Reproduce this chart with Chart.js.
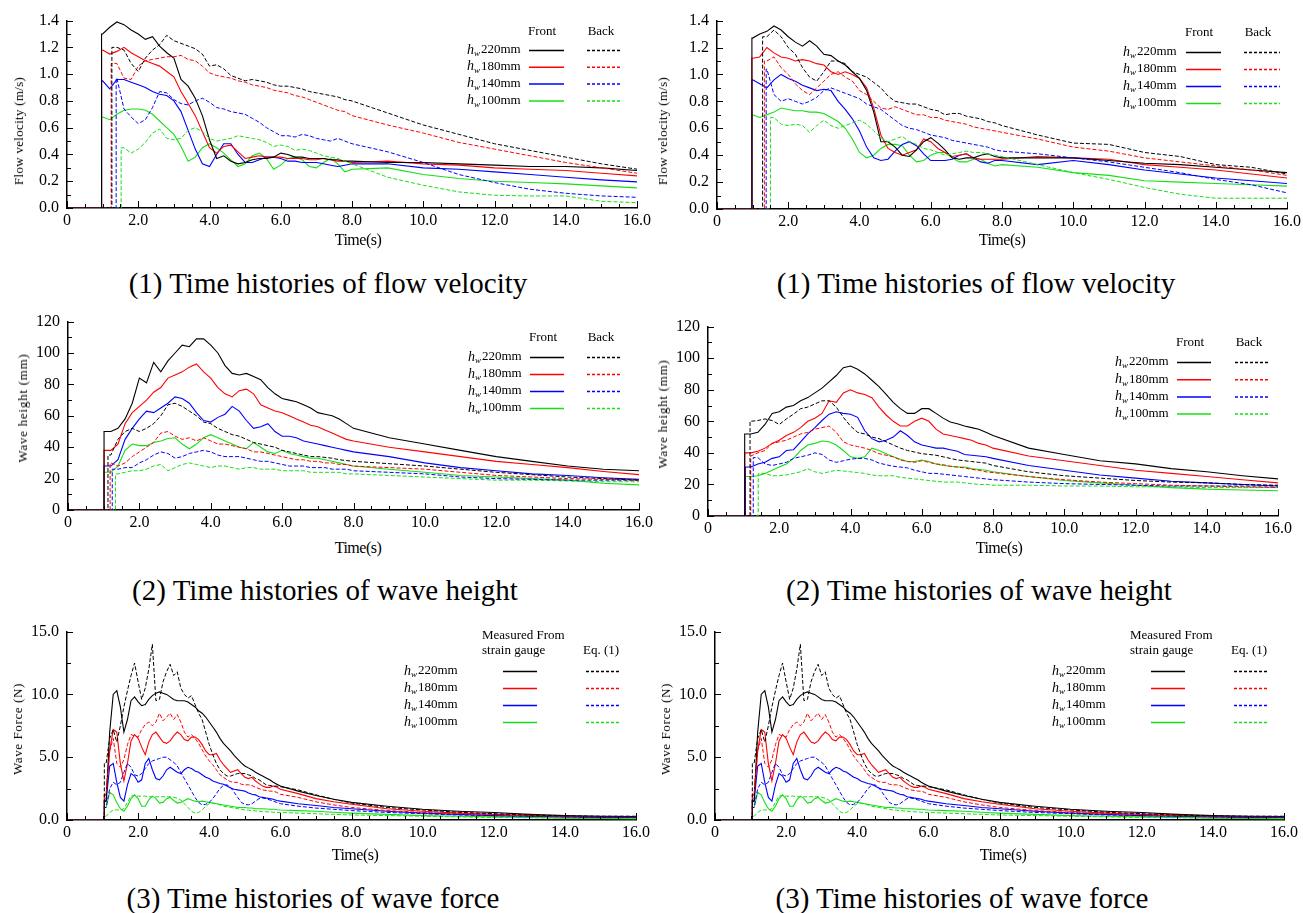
<!DOCTYPE html>
<html>
<head>
<meta charset="utf-8">
<script src="https://cdn.jsdelivr.net/npm/chart.js@4.4.0/dist/chart.umd.min.js"></script>
<style>
    body { margin: 0; background: #fff; width: 1303px; height: 913px; position: relative; overflow: hidden; font-family: "Liberation Serif", serif; color: #000; }
    canvas { position: absolute; }
    .cap { position: absolute; font-size: 29px; white-space: nowrap; transform: translate(-50%, -50%); }
    .xt { position: absolute; font-size: 16px; white-space: nowrap; letter-spacing: -0.5px; transform: translate(-50%, -50%); }
    .yt { position: absolute; font-size: 13px; white-space: nowrap; transform: translate(-50%, -50%) rotate(-90deg); }
</style>
</head>
<body>
<script>
// ---- data ----
const depthLabels = ['220mm', '180mm', '140mm', '100mm'];
const seriesColors = ['#000000', '#ff0000', '#0000ff', '#14e014'];

// time grids (s)
const tVel = [1.0,1.2,1.4,1.6,1.8,2.0,2.2,2.4,2.6,2.8,3.0,3.2,3.4,3.6,3.8,4.0,4.2,4.4,4.6,4.8,5.0,5.2,5.4,5.6,5.8,6.0,6.2,6.4,6.6,6.8,7.0,7.2,7.4,7.6,7.8,8.0,9,10,11,12,13,14,15,16];
const tHgt = [1.2,1.4,1.6,1.8,2.0,2.2,2.4,2.6,2.8,3.0,3.2,3.4,3.6,3.8,4.0,4.2,4.4,4.6,4.8,5.0,5.2,5.4,5.6,5.8,6.0,6.2,6.4,6.6,6.8,7.0,7.2,7.4,7.6,7.8,8.0,9,10,11,12,13,14,15,16];
const tForce = [1.1,1.2,1.3,1.4,1.5,1.6,1.7,1.8,1.9,2.0,2.1,2.2,2.3,2.4,2.5,2.6,2.7,2.8,2.9,3.0,3.1,3.2,3.3,3.4,3.5,3.6,3.7,3.8,3.9,4.0,4.1,4.2,4.3,4.4,4.5,4.6,4.7,4.8,4.9,5.0,5.1,5.2,5.3,5.4,5.5,5.6,5.7,5.8,5.9,6.0,6.5,7,7.5,8,9,10,11,12,13,14,15,16];

// (1) flow velocity, left figure (m/s)
const velL_F220 = [1.30,1.35,1.39,1.37,1.33,1.30,1.26,1.28,1.21,1.16,1.12,0.96,0.91,0.82,0.69,0.51,0.37,0.39,0.35,0.33,0.34,0.36,0.37,0.37,0.38,0.41,0.40,0.38,0.38,0.37,0.37,0.37,0.36,0.36,0.35,0.35,0.34,0.34,0.33,0.32,0.31,0.31,0.30,0.28];
const velL_F180 = [1.18,1.15,1.17,1.20,1.16,1.13,1.10,1.08,1.06,1.02,0.98,0.87,0.78,0.69,0.57,0.45,0.41,0.46,0.47,0.42,0.37,0.38,0.39,0.38,0.38,0.38,0.37,0.37,0.37,0.36,0.36,0.37,0.36,0.35,0.35,0.34,0.35,0.33,0.32,0.30,0.29,0.28,0.26,0.24];
const velL_F140 = [0.95,0.89,0.96,0.96,0.94,0.92,0.90,0.87,0.85,0.84,0.80,0.72,0.58,0.44,0.33,0.31,0.40,0.48,0.48,0.40,0.34,0.34,0.36,0.38,0.38,0.37,0.35,0.35,0.34,0.34,0.34,0.33,0.32,0.31,0.32,0.33,0.33,0.30,0.29,0.27,0.25,0.23,0.21,0.195];
const velL_F100 = [0.68,0.66,0.70,0.73,0.74,0.74,0.73,0.70,0.65,0.60,0.55,0.46,0.35,0.38,0.45,0.48,0.45,0.41,0.36,0.31,0.33,0.39,0.41,0.37,0.29,0.32,0.37,0.38,0.36,0.31,0.30,0.34,0.37,0.33,0.27,0.29,0.30,0.25,0.22,0.20,0.19,0.18,0.165,0.15];
const velL_B220 = [null,null,1.20,1.18,1.08,1.02,1.12,1.18,1.22,1.29,1.25,1.23,1.21,1.19,1.15,1.06,1.07,1.04,0.99,0.97,0.95,0.96,0.95,0.94,0.92,0.91,0.91,0.90,0.89,0.87,0.86,0.85,0.84,0.83,0.81,0.80,0.71,0.62,0.55,0.48,0.43,0.38,0.33,0.29];
const velL_B180 = [null,null,1.08,0.97,0.96,1.06,1.10,1.11,1.12,1.13,1.13,1.14,1.11,1.10,1.06,1.01,0.99,0.98,0.97,0.95,0.94,0.92,0.91,0.90,0.88,0.87,0.86,0.84,0.83,0.81,0.79,0.77,0.75,0.73,0.72,0.69,0.62,0.56,0.49,0.44,0.39,0.34,0.30,0.26];
const velL_B140 = [null,null,0.97,0.74,0.68,0.63,0.66,0.75,0.87,0.86,0.81,0.78,0.77,0.80,0.82,0.79,0.75,0.74,0.72,0.71,0.70,0.67,0.64,0.60,0.57,0.54,0.54,0.53,0.55,0.54,0.52,0.51,0.50,0.52,0.50,0.48,0.42,0.34,0.25,0.19,0.14,0.11,0.09,0.08];
const velL_B100 = [null,null,null,0.45,0.41,0.44,0.49,0.56,0.59,0.52,0.51,0.52,0.58,0.60,0.57,0.52,0.50,0.51,0.52,0.54,0.53,0.52,0.51,0.49,0.46,0.47,0.46,0.43,0.44,0.43,0.41,0.39,0.38,0.37,0.35,0.33,0.23,0.17,0.12,0.095,0.09,0.09,0.05,0.04];
const velL_startFront = [0.97, 0.97, 0.97, 0.97];
const velL_startBack = [1.26, 1.24, 1.38, 1.52];

// (1) flow velocity, right figure (m/s)
const velR_F220 = [1.27,1.30,1.32,1.36,1.33,1.28,1.24,1.21,1.25,1.21,1.15,1.14,1.10,1.07,1.02,0.97,0.88,0.72,0.50,0.50,0.46,0.40,0.39,0.44,0.50,0.53,0.49,0.44,0.38,0.37,0.38,0.38,0.40,0.41,0.39,0.38,0.38,0.38,0.36,0.34,0.33,0.31,0.29,0.27];
const velR_F180 = [1.12,1.13,1.20,1.16,1.13,1.12,1.10,1.11,1.10,1.08,1.07,1.02,1.00,1.02,1.00,0.97,0.90,0.75,0.55,0.45,0.42,0.40,0.42,0.44,0.52,0.50,0.45,0.42,0.39,0.40,0.41,0.38,0.37,0.37,0.37,0.37,0.39,0.38,0.37,0.33,0.31,0.29,0.26,0.23];
const velR_F140 = [0.96,0.93,0.90,0.96,1.00,0.97,0.95,0.92,0.90,0.88,0.89,0.88,0.80,0.74,0.67,0.58,0.46,0.38,0.36,0.37,0.43,0.48,0.50,0.47,0.41,0.36,0.36,0.36,0.37,0.40,0.41,0.38,0.35,0.34,0.36,0.36,0.33,0.36,0.33,0.29,0.26,0.23,0.21,0.19];
const velR_F100 = [0.70,0.68,0.70,0.72,0.75,0.74,0.73,0.73,0.72,0.72,0.71,0.68,0.65,0.60,0.52,0.42,0.38,0.40,0.45,0.48,0.48,0.47,0.40,0.35,0.36,0.40,0.42,0.42,0.38,0.35,0.35,0.37,0.37,0.34,0.32,0.33,0.31,0.27,0.25,0.21,0.20,0.19,0.18,0.17];
const velR_B220 = [null,null,1.28,1.33,1.28,1.20,1.15,1.05,0.98,0.95,1.02,1.10,1.10,1.08,1.02,1.00,0.98,0.94,0.90,0.84,0.80,0.79,0.78,0.78,0.76,0.74,0.73,0.70,0.71,0.71,0.69,0.68,0.67,0.65,0.64,0.62,0.55,0.49,0.48,0.42,0.39,0.33,0.31,0.26];
const velR_B180 = [null,null,1.10,1.13,1.05,1.00,0.93,0.88,0.85,0.90,0.95,1.00,1.02,0.98,0.95,0.88,0.85,0.80,0.75,0.74,0.76,0.74,0.72,0.70,0.70,0.68,0.68,0.66,0.65,0.64,0.63,0.61,0.60,0.59,0.58,0.57,0.52,0.46,0.43,0.38,0.35,0.32,0.29,0.25];
const velR_B140 = [null,null,1.04,0.85,0.80,0.82,0.80,0.78,0.80,0.83,0.88,0.90,0.88,0.86,0.84,0.82,0.78,0.76,0.74,0.70,0.66,0.62,0.60,0.59,0.57,0.55,0.54,0.53,0.51,0.50,0.49,0.48,0.47,0.46,0.44,0.43,0.41,0.38,0.35,0.31,0.27,0.22,0.18,0.12];
const velR_B100 = [null,null,null,0.68,0.63,0.62,0.63,0.62,0.57,0.62,0.66,0.62,0.60,0.62,0.64,0.66,0.63,0.58,0.53,0.50,0.52,0.54,0.50,0.48,0.45,0.44,0.42,0.40,0.41,0.42,0.43,0.42,0.42,0.41,0.40,0.39,0.33,0.27,0.22,0.16,0.11,0.08,0.08,0.08];
const velR_startFront = [0.98, 0.98, 0.98, 0.98];
const velR_startBack = [1.28, 1.33, 1.38, 1.50];

// (2) wave height, left figure (mm)
const hgtL_F220 = [50,52,58,68,84,81,94,88,95,100,105,104,109,109,105,100,92,87,86,87,85,83,78,74,71,70,69,67,65,62,61,60,58,55,52,46,42,38,34,31,28,26,25];
const hgtL_F180 = [38,42,55,62,66,70,75,78,84,86,88,91,93,88,84,78,74,72,76,77,74,67,65,63,62,60,58,56,54,53,51,49,47,45,44,40,37,34,31,29,27,24.5,22.5];
const hgtL_F140 = [28,32,45,52,58,63,62,65,68,72,71,68,62,57,56,59,61,66,63,57,52,53,55,50,47,47,46,44,43,42,41,40,39,38,37,34,30,27,25,23,22,20.5,19.5];
const hgtL_F100 = [24,28,38,42,41,41,43,44,45.5,46,42,39,42,46,48,46,44,42,40,39,43,40,37,36,38,36,35,34,33,33,32,31,30,29,28,26,24,22,21,20,19,17,16];
const hgtL_B220 = [35,45,50,52,50,52,55,60,67,68,66,63,60,56,55,52,50,48,47,45,43,42,41,40,38,37,36,35,34,34,33.5,33,32,31.5,31,29.5,28,26,24,22.5,21,20,19];
const hgtL_B180 = [30,28,30,34,37,40,43,49,50,47,45,46,44,46,44,42,42,41,40,39,37,37,36,35,34,33,32,32,31,31,30,30,29,29,28,27,26,24,22,21,20,19.5,19];
const hgtL_B140 = [null,26,27,27,30,32,35,37,36,33,34,36,37,38,37,35,34,34,34,33,32,31,31,30,29,28,28,28,27,27,27,26,26,26,25,24,23,21,20,19.5,19,19,19];
const hgtL_B100 = [null,23,24,25,25,26,28,29,25,27,29,30,29,28,27,28,28,27,26,27,27,26,26,26,25,25,25,25,24,24,24,24,24,23,23,22,21,20,19,19,18.5,18,18];
const hgtL_startFront = [1.01, 1.01, 1.01, 1.01];
const hgtL_startBack = [1.12, 1.18, 1.24, 1.33];

// (2) wave height, right figure (mm)
const hgtR_F220 = [52,53,58,65,66,69,70,73,75,78,81,85,89,94,95,93,90,86,82,77,72,68,65,65,68,68,65,62,59.5,58.5,57,56,55,53,51,43,39,35,33,30,28,25.5,23.5];
const hgtR_F180 = [40,41,43,46,48,51,53,56,60,62,65,73,72,78,80,78,77,75,69,64,60,57,57,60,62,60,55,52,51,50,49,48,46,45,43,38,35,32,29,27,25,23,21];
const hgtR_F140 = [31,33,34,36.5,37.5,41.5,42,47,52,56,60.5,64.5,66,65,64.5,62.5,54,49,47,48,50,54,51,47,45,44,43,43,42,41,39,38.5,38,37.5,36.5,32,29,26,24,22,21,20,19];
const hgtR_F100 = [25,25.5,27,29,31,33,36.5,41.5,45,46,47.5,47,45,41.5,37.5,36.5,37.5,43,41.5,39.5,37.5,36,34.5,34.5,35.5,34.5,33,32,31.5,31,31,30,29.5,29,28,25,22.5,21,19.5,18,17,16.5,16];
const hgtR_B220 = [60,60.5,61.5,60.5,58,61.5,64.5,68,69,71,73,73,69,62.5,57,53,52,50,49,47,45,43,41.5,40.5,39.5,39,38.5,37.5,36.5,35.5,35,34.5,34,33.5,32,28,25.5,24,22.5,21.5,21,20,19.5];
const hgtR_B180 = [38,40,41.5,46,47,48,50,52,53,55,56,57,53,47,45,44,43,41.5,39.5,38.5,37.5,35.5,34.5,34,35,34,33,32.5,31.5,31,30.5,29.5,29,28,27.5,25,23,21.5,20.5,19.5,19,18.5,18];
const hgtR_B140 = [null,37,33,32,33,34,36.5,37.5,38.5,40,39,35.5,34,35,36,36.5,36.5,35.5,33.5,32.5,31.5,31,30.5,29,28,27,27,26.5,26,25.5,25,24.5,24,23.5,23,21.5,20.5,20,19.5,19,19,19,19];
const hgtR_B100 = [null,null,27,25.5,25.5,26,27,28,30,28,27,28,29,28.5,28,27.5,27,26,25.5,25.5,25.5,24.5,24,23.5,23,22.5,22,21.5,21.5,21.5,21,20.5,20,20,19.5,19.5,19,19,18.5,18.5,18,18,18];
const hgtR_startFront = [1.03, 1.03, 1.05, 1.05];
const hgtR_startBack = [1.18, 1.2, 1.27, 1.41];

// (3) wave force (N): measured from strain gauge and Eq. (1)
const forceM220 = [1.5,7.0,10.0,10.3,9.0,7.0,8.0,9.5,9.8,9.4,9.1,9.2,9.6,9.9,10.1,10.2,10.1,10.0,9.8,9.6,9.5,9.5,9.5,9.4,9.2,9.0,8.7,8.5,8.2,7.8,7.4,7.0,6.5,6.1,5.8,5.5,5.15,4.85,4.55,4.3,4.15,4.0,3.8,3.65,3.5,3.35,3.2,3.0,2.85,2.7,2.3,1.95,1.65,1.4,1.1,0.86,0.7,0.6,0.45,0.35,0.3,0.28];
const forceM180 = [2.0,5.5,7.2,7.0,4.5,3.1,4.5,6.3,6.8,6.5,5.8,5.2,6.2,6.8,7.0,6.6,6.2,6.1,6.3,6.7,7.0,6.8,6.4,6.3,6.6,6.6,6.4,6.0,5.5,5.2,5.2,5.3,4.8,4.4,4.1,3.8,3.9,4.0,3.7,3.4,3.3,3.4,3.1,2.9,2.7,2.6,2.6,2.7,2.6,2.45,2.1,1.7,1.45,1.25,0.9,0.7,0.55,0.45,0.35,0.3,0.25,0.25];
const forceM140 = [1.5,4.3,4.5,3.0,1.8,1.5,2.8,3.7,3.5,3.0,3.2,4.5,4.9,4.0,3.3,3.2,3.5,4.0,4.2,4.0,3.8,3.7,4.0,4.2,4.1,3.9,3.8,3.6,3.4,3.3,3.1,3.0,2.9,2.85,2.7,2.55,2.45,2.4,2.35,2.3,2.15,2.05,2.0,1.85,1.8,1.75,1.7,1.65,1.55,1.5,1.3,1.15,1.0,0.9,0.7,0.55,0.45,0.35,0.3,0.25,0.2,0.2];
const forceM100 = [1.0,2.2,2.0,1.4,0.9,0.7,1.1,1.7,2.0,1.7,1.1,1.1,1.6,1.9,1.7,1.35,1.4,1.7,1.8,1.55,1.35,1.4,1.55,1.7,1.6,1.5,1.45,1.5,1.45,1.4,1.35,1.3,1.25,1.2,1.15,1.1,1.05,1.0,1.0,1.0,0.95,0.95,0.9,0.9,0.9,0.88,0.85,0.85,0.82,0.8,0.75,0.7,0.62,0.55,0.45,0.35,0.3,0.25,0.2,0.15,0.12,0.1];
const forceE220 = [4.5,6.5,7.2,6.2,7.5,9.0,10.3,11.5,12.5,11.0,9.6,10.5,12.0,14.0,9.5,9.6,11.0,11.8,12.4,11.5,11.8,10.5,10.0,9.7,9.9,9.2,8.5,8.0,7.0,6.0,5.2,4.5,4.0,3.7,3.5,3.5,3.6,3.7,3.7,3.7,3.6,3.5,3.3,3.2,3.0,2.8,2.75,2.7,2.7,2.65,2.4,2.0,1.65,1.35,1.0,0.8,0.62,0.5,0.4,0.33,0.3,0.3];
const forceE180 = [2.0,5.5,6.5,4.5,4.2,4.8,6.0,6.8,6.7,6.6,7.2,7.6,7.8,7.5,7.8,8.5,7.9,8.2,8.5,8.0,8.4,7.8,7.0,6.6,6.8,6.5,6.1,5.6,5.1,4.7,4.4,4.0,3.6,3.4,3.2,3.05,3.0,3.0,2.85,2.8,2.8,2.75,2.6,2.5,2.4,2.35,2.3,2.3,2.2,2.05,1.8,1.45,1.2,1.0,0.75,0.6,0.5,0.42,0.35,0.3,0.28,0.27];
const forceE140 = [1.0,2.5,3.0,2.8,3.0,3.8,4.5,4.2,3.6,3.5,3.7,4.1,4.5,4.7,4.8,4.9,5.0,5.0,4.8,4.6,4.3,3.8,3.3,2.8,2.3,1.8,1.4,1.2,1.25,1.4,1.7,2.1,2.5,2.75,2.8,2.6,2.2,1.8,1.4,1.25,1.2,1.3,1.5,1.7,1.75,1.7,1.6,1.5,1.4,1.3,1.1,0.95,0.85,0.75,0.6,0.5,0.4,0.35,0.3,0.25,0.2,0.2];
const forceE100 = [0.3,0.6,0.8,0.8,0.8,0.9,1.4,1.9,1.95,1.9,1.9,1.9,1.85,1.85,1.85,1.85,1.85,1.85,1.85,1.8,1.75,1.6,1.3,1.0,0.7,0.55,0.6,0.8,1.1,1.3,1.35,1.3,1.2,1.1,1.05,1.0,0.95,0.9,0.85,0.8,0.78,0.75,0.72,0.7,0.68,0.66,0.64,0.62,0.6,0.6,0.55,0.5,0.45,0.4,0.35,0.3,0.25,0.2,0.18,0.15,0.12,0.1];
const force_start = [1.05, 1.05, 1.05, 1.05];

// ---- drawing ----
function track(t, v, t0) {
    const pts = [{ x: 0, y: 0 }, { x: t0, y: 0 }];
    let started = false;
    t.forEach(function (ti, i) {
        if (v[i] === null || ti < t0) return;
        if (!started) {
            pts.push({ x: t0, y: v[i] });
            started = true;
        }
        pts.push({ x: ti, y: v[i] });
    });
    return pts;
}

function makeDatasets(t, solid, dashed, t0s, t0d) {
    const sets = [];
    for (let i = 0; i < 4; i++) {
        sets.push({
            data: track(t, dashed[i], t0d[i]),
            borderColor: seriesColors[i],
            borderWidth: 1,
            borderDash: [4, 2],
            pointRadius: 0
        });
    }
    for (let i = 0; i < 4; i++) {
        sets.push({
            data: track(t, solid[i], t0s[i]),
            borderColor: seriesColors[i],
            borderWidth: 1.1,
            pointRadius: 0
        });
    }
    return sets;
}

// inward tick marks on both axes
const innerTicks = {
    id: 'innerTicks',
    afterDraw(chart, args, o) {
        const ctx = chart.ctx;
        const a = chart.chartArea;
        const x = chart.scales.x, y = chart.scales.y;
        ctx.save();
        ctx.strokeStyle = '#000';
        ctx.lineWidth = 1;
        ctx.beginPath();
        for (let k = 0; k <= 32; k++) {
            const px = Math.round(x.getPixelForValue(k * 0.5)) + 0.5;
            ctx.moveTo(px, a.bottom);
            ctx.lineTo(px, a.bottom - (k % 4 === 0 ? 7 : 4));
        }
        const n = Math.round(o.ymax / o.yminor);
        for (let k = 0; k <= n; k++) {
            const py = Math.round(y.getPixelForValue(k * o.yminor)) + 0.5;
            ctx.moveTo(a.left, py);
            ctx.lineTo(a.left + (k % 2 === 0 ? 6 : 4), py);
        }
        ctx.stroke();
        ctx.restore();
    }
};

// two-column legend (solid / dashed) drawn on the canvas
const pairLegend = {
    id: 'pairLegend',
    afterDraw(chart, args, o) {
        const ctx = chart.ctx;
        ctx.save();
        ctx.translate(-o.ox, -o.oy);
        ctx.fillStyle = '#000';
        ctx.textBaseline = 'middle';
        ctx.font = '13px "Liberation Serif"';
        o.heads.forEach(function (h) {
            ctx.textAlign = h.align;
            ctx.fillText(h.text, h.x, h.y);
        });
        ctx.textAlign = 'left';
        depthLabels.forEach(function (lab, i) {
            const y = o.rowY + i * o.rowGap;
            let x = o.labelX;
            ctx.fillStyle = '#000';
            ctx.font = 'italic 14px "Liberation Serif"';
            ctx.fillText('h', x, y);
            x += ctx.measureText('h').width;
            ctx.font = 'italic 9px "Liberation Serif"';
            ctx.fillText('w', x, y + 4);
            x += ctx.measureText('w').width + 1;
            ctx.font = '13px "Liberation Serif"';
            ctx.fillText(lab, x, y);
            ctx.strokeStyle = seriesColors[i];
            ctx.lineWidth = 1.5;
            ctx.setLineDash([]);
            ctx.beginPath(); ctx.moveTo(o.sx[0], y + 0.5); ctx.lineTo(o.sx[1], y + 0.5); ctx.stroke();
            ctx.setLineDash([3, 2]);
            ctx.beginPath(); ctx.moveTo(o.dx[0], y + 0.5); ctx.lineTo(o.dx[1], y + 0.5); ctx.stroke();
        });
        ctx.restore();
    }
};

function addText(cls, text, x, y) {
    const d = document.createElement('div');
    d.className = cls;
    d.textContent = text;
    d.style.left = x + 'px';
    d.style.top = y + 'px';
    document.body.appendChild(d);
    return d;
}

function makePanel(p) {
    const ox = p.L - 62, oy = p.T - 14;
    const w = p.R - p.L + 62 + 26, h = p.B - p.T + 14 + 28;
    const cv = document.createElement('canvas');
    cv.width = w; cv.height = h;
    cv.style.left = ox + 'px'; cv.style.top = oy + 'px';
    cv.style.width = w + 'px'; cv.style.height = h + 'px';
    document.body.appendChild(cv);

    const tickFont = { family: 'Liberation Serif', size: 16 };
    const legend = Object.assign({ ox: ox, oy: oy }, p.legend);

    const config = {
        type: 'line',
        data: { datasets: makeDatasets(p.t, p.solid, p.dashed, p.t0s, p.t0d) },
        options: {
            responsive: false,
            animation: false,
            events: [],
            layout: { padding: { left: 0, top: 14, right: 26, bottom: 0 } },
            plugins: {
                legend: { display: false },
                tooltip: { enabled: false },
                innerTicks: { ymax: p.ymax, yminor: p.yminor },
                pairLegend: legend
            },
            scales: {
                x: {
                    type: 'linear', min: 0, max: 16,
                    afterFit: function (s) { s.height = 28; },
                    grid: { display: true, drawOnChartArea: false, drawTicks: false },
                    border: { color: '#000', width: 1.5 },
                    ticks: {
                        stepSize: 2, autoSkip: false, maxRotation: 0, padding: 3,
                        color: '#000', font: tickFont,
                        callback: function (v) { return v === 0 ? '0' : v.toFixed(1); }
                    }
                },
                y: {
                    min: 0, max: p.ymax,
                    afterFit: function (s) { s.width = 62; },
                    grid: { display: true, drawOnChartArea: false, drawTicks: false },
                    border: { color: '#000', width: 1.5 },
                    ticks: {
                        stepSize: p.ystep, autoSkip: false, padding: 8,
                        color: '#000', font: tickFont,
                        callback: function (v) { return v.toFixed(p.dec); }
                    }
                }
            }
        },
        plugins: [innerTicks, pairLegend]
    };
    new Chart(cv, config);

    addText('xt', 'Time(s)', p.xTitle[0], p.xTitle[1]);
    const yt = addText('yt', p.yTitle, p.yPos[0], p.yPos[1]);
    yt.style.letterSpacing = p.ySpace + 'px';
    addText('cap', p.caption, p.capPos[0], p.capPos[1]);
}

const frontBack = function (cx1, cx2, y) {
    return [{ text: 'Front', x: cx1, y: y, align: 'center' }, { text: 'Back', x: cx2, y: y, align: 'center' }];
};
const gaugeEq = function (x1, x2, y) {
    return [
        { text: 'Measured From', x: x1, y: y, align: 'left' },
        { text: 'strain gauge', x: x1, y: y + 15, align: 'left' },
        { text: 'Eq. (1)', x: x2, y: y + 15, align: 'left' }
    ];
};

const panels = [
    {
        L: 67, R: 637, T: 17, B: 208, ymax: 1.4, ystep: 0.2, yminor: 0.1, dec: 1,
        t: tVel, solid: [velL_F220, velL_F180, velL_F140, velL_F100], dashed: [velL_B220, velL_B180, velL_B140, velL_B100],
        t0s: velL_startFront, t0d: velL_startBack,
        legend: { heads: frontBack(542, 601, 32), labelX: 467, rowY: 50, rowGap: 16.8, sx: [529, 564], dx: [587, 622] },
        xTitle: [358, 240], yTitle: 'Flow velocity (m/s)', yPos: [19, 131], ySpace: 0.3,
        caption: '(1) Time histories of flow velocity', capPos: [328, 283]
    },
    {
        L: 717, R: 1287, T: 17, B: 209, ymax: 1.4, ystep: 0.2, yminor: 0.1, dec: 1,
        t: tVel, solid: [velR_F220, velR_F180, velR_F140, velR_F100], dashed: [velR_B220, velR_B180, velR_B140, velR_B100],
        t0s: velR_startFront, t0d: velR_startBack,
        legend: { heads: frontBack(1199, 1258, 33), labelX: 1123, rowY: 52, rowGap: 17, sx: [1186, 1221], dx: [1244, 1280] },
        xTitle: [1002, 240], yTitle: 'Flow velocity (m/s)', yPos: [663, 131], ySpace: 0.3,
        caption: '(1) Time histories of flow velocity', capPos: [976, 283]
    },
    {
        L: 68, R: 639, T: 318, B: 510, ymax: 120, ystep: 20, yminor: 10, dec: 0,
        t: tHgt, solid: [hgtL_F220, hgtL_F180, hgtL_F140, hgtL_F100], dashed: [hgtL_B220, hgtL_B180, hgtL_B140, hgtL_B100],
        t0s: hgtL_startFront, t0d: hgtL_startBack,
        legend: { heads: frontBack(543, 601, 338), labelX: 468, rowY: 357, rowGap: 17, sx: [530, 564], dx: [587, 622] },
        xTitle: [358, 548], yTitle: 'Wave height (mm)', yPos: [23, 408], ySpace: 0.75,
        caption: '(2) Time histories of wave height', capPos: [325, 590]
    },
    {
        L: 708, R: 1278, T: 323, B: 516, ymax: 120, ystep: 20, yminor: 10, dec: 0,
        t: tHgt, solid: [hgtR_F220, hgtR_F180, hgtR_F140, hgtR_F100], dashed: [hgtR_B220, hgtR_B180, hgtR_B140, hgtR_B100],
        t0s: hgtR_startFront, t0d: hgtR_startBack,
        legend: { heads: frontBack(1190, 1249, 343), labelX: 1115, rowY: 362, rowGap: 17.2, sx: [1177, 1211], dx: [1235, 1270] },
        xTitle: [999, 548], yTitle: 'Wave height (mm)', yPos: [663, 414], ySpace: 0.75,
        caption: '(2) Time histories of wave height', capPos: [979, 590]
    },
    {
        L: 67, R: 636, T: 628, B: 820, ymax: 15, ystep: 5, yminor: 2.5, dec: 1,
        t: tForce, solid: [forceM220, forceM180, forceM140, forceM100], dashed: [forceE220, forceE180, forceE140, forceE100],
        t0s: force_start, t0d: force_start,
        legend: { heads: gaugeEq(482, 583, 636), labelX: 404, rowY: 671, rowGap: 17, sx: [503, 537], dx: [586, 621] },
        xTitle: [355, 855], yTitle: 'Wave Force (N)', yPos: [18, 729], ySpace: 0.6,
        caption: '(3) Time histories of wave force', capPos: [313, 898]
    },
    {
        L: 715, R: 1284, T: 628, B: 820, ymax: 15, ystep: 5, yminor: 2.5, dec: 1,
        t: tForce, solid: [forceM220, forceM180, forceM140, forceM100], dashed: [forceE220, forceE180, forceE140, forceE100],
        t0s: force_start, t0d: force_start,
        legend: { heads: gaugeEq(1130, 1231, 636), labelX: 1052, rowY: 671, rowGap: 17, sx: [1151, 1185], dx: [1234, 1269] },
        xTitle: [1003, 855], yTitle: 'Wave Force (N)', yPos: [666, 729], ySpace: 0.6,
        caption: '(3) Time histories of wave force', capPos: [962, 898]
    }
];

panels.forEach(makePanel);
</script>
</body>
</html>
